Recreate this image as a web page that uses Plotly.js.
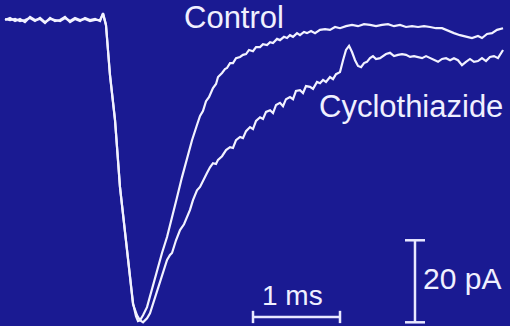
<!DOCTYPE html>
<html>
<head>
<meta charset="utf-8">
<script src="https://cdn.plot.ly/plotly-3.0.1.min.js"></script>
<style>
html,body{margin:0;padding:0;background:#1a1a92;}
#chart{width:510px;height:326px;}
</style>
</head>
<body>
<div id="chart"></div>
<script>
// Time in ms (0 = onset), current in pA (baseline 0)
var controlTime = [-1.149,-1.092,-1.034,-0.977,-0.920,-0.862,-0.805,-0.747,-0.690,-0.632,-0.575,-0.517,-0.460,-0.402,-0.345,-0.287,-0.230,-0.172,-0.115,-0.057,-0.023,
  0.011,0.057,0.115,0.172,0.253,0.322,0.356,0.379,
  0.402,0.437,0.483,0.540,0.598,0.655,0.713,0.770,0.828,0.885,0.943,1.000,1.057,1.092,1.126,1.161,1.195,1.241,1.276,1.299,1.345,1.379,1.402,1.437,1.471,1.506,1.552,1.586,1.621,1.655,1.701,1.736,1.782,1.816,1.862,1.897,1.931,1.977,2.011,2.057,2.092,2.126,2.161,2.207,2.241,2.287,2.322,2.368,2.414,2.471,2.529,2.586,2.644,2.701,
  2.770,2.839,2.908,2.977,3.046,3.115,3.184,3.253,3.322,3.391,3.460,3.529,3.598,3.667,3.736,3.805,3.874,3.943,4.011,4.080,4.149,4.218,4.287,4.333,4.391,4.448,4.506,4.575];
var controlCurrent = [0,0.5,-0.25,0.25,-0.5,0.75,0,0.25,-0.75,0.5,-0.25,0,0.75,-0.5,0.25,-0.25,0.5,0,0.25,-0.25,1.7,
  -1.2,-13.4,-24.4,-40.7,-56.8,-69.0,-72.2,-73.4,
  -73.2,-72.0,-70.0,-65.6,-61.0,-56.8,-52.9,-48.3,-43.2,-38.3,-33.4,-29.3,-25.6,-23.4,-22.2,-19.8,-18.8,-16.6,-15.6,-13.9,-12.9,-11.95,-11.7,-10.5,-10.5,-9.3,-9.0,-8.5,-8.3,-7.3,-7.6,-6.6,-6.6,-5.9,-6.1,-5.4,-5.6,-4.6,-4.9,-4.1,-4.4,-3.7,-4.1,-3.2,-3.7,-2.9,-3.2,-2.7,-3.2,-2.4,-2.2,-2.4,-1.7,-2.0,
  -1.5,-1.2,-1.5,-1.0,-1.2,-1.5,-1.2,-1.0,-1.5,-1.2,-1.7,-1.5,-1.7,-1.5,-1.7,-2.0,-2.0,-2.7,-3.2,-3.7,-4.1,-4.4,-3.9,-4.4,-3.4,-3.2,-2.4,-2.0];

var cycloTime = [-1.149,-1.092,-1.034,-0.977,-0.920,-0.862,-0.805,-0.747,-0.690,-0.632,-0.575,-0.517,-0.460,-0.402,-0.345,-0.287,-0.230,-0.172,-0.115,-0.057,-0.023,
  0.011,0.057,0.115,0.172,0.253,0.322,0.368,0.402,
  0.437,0.483,0.517,0.575,0.632,0.678,0.713,0.747,0.770,0.816,0.862,0.908,0.943,0.977,1.011,1.057,1.092,1.138,1.172,1.207,1.241,1.276,1.299,1.345,1.391,1.437,1.471,1.506,1.552,1.586,1.621,1.667,1.701,1.736,1.782,1.816,1.851,1.897,1.931,1.966,2.011,2.046,2.080,2.126,2.161,2.195,2.241,2.276,2.310,2.356,2.391,2.437,2.471,2.506,2.540,2.586,2.621,2.655,2.701,
  2.736,2.770,2.805,2.839,2.874,2.908,2.943,2.977,3.011,3.046,3.080,3.115,3.161,3.195,3.230,3.276,3.322,3.368,3.414,3.460,3.506,3.552,3.598,3.644,3.690,3.736,3.782,3.828,3.874,3.920,3.966,4.011,4.057,4.103,4.149,4.195,4.241,4.287,4.333,4.379,4.425,4.471,4.517,4.575];
var cycloCurrent = [0.25,0,0.25,-0.25,0,0.5,-0.25,0.5,-0.5,0.25,0,-0.25,0.5,-0.25,0.5,0,0.25,-0.25,0,0,1.5,
  -1.2,-13.4,-24.4,-40.7,-56.8,-69.3,-72.0,-73.2,
  -73.7,-72.7,-71.5,-67.8,-64.1,-61.0,-58.5,-57.3,-56.8,-53.7,-51.2,-49.8,-48.0,-46.3,-43.9,-41.5,-40.7,-38.5,-37.3,-35.9,-34.9,-35.1,-34.1,-33.2,-31.7,-31.0,-31.2,-29.3,-28.5,-28.8,-27.1,-26.1,-26.6,-24.6,-23.7,-24.1,-22.4,-22.0,-22.7,-20.7,-20.2,-21.0,-19.3,-18.8,-19.3,-17.3,-17.1,-17.8,-16.1,-16.3,-16.8,-15.1,-15.4,-14.6,-15.1,-13.9,-14.4,-13.2,-12.7,
  -9.8,-7.3,-6.3,-7.8,-9.8,-11.2,-11.5,-10.5,-10.2,-9.3,-8.8,-9.5,-9.3,-8.8,-8.3,-8.0,-8.8,-8.5,-8.3,-8.5,-9.0,-8.8,-9.0,-9.3,-8.8,-9.3,-9.8,-10.2,-9.5,-9.3,-9.8,-9.3,-9.8,-11.0,-10.2,-9.5,-10.2,-10.0,-9.3,-10.0,-9.0,-8.8,-9.3,-7.3];

var seriesNames = ["Control", "Cyclothiazide"];
var scaleLabels = ["1 ms", "20 pA"];

var lineColor = "#f2f2ff";
var textColor = "#f0f0ff";
var bg = "#1a1a92";
var fontFam = "Liberation Sans, Arial, Helvetica, sans-serif";

var traces = [
  {x: controlTime, y: controlCurrent, name: seriesNames[0], mode: "lines", line: {color: lineColor, width: 2.2}},
  {x: cycloTime, y: cycloCurrent, name: seriesNames[1], mode: "lines", line: {color: lineColor, width: 2.2}}
];

// scale bars (1 ms, 20 pA)
var hb = {x0: 1.701, y: -72.4};
var vb = {x: 3.563, y0: -53.7};
var bs = {color: "#e8e8ff", width: 2.5};
var shapes = [
  {type: "line", xref: "x", yref: "y", x0: hb.x0, x1: hb.x0 + 1, y0: hb.y, y1: hb.y, line: bs},
  {type: "line", xref: "x", yref: "y", x0: hb.x0, x1: hb.x0, y0: hb.y - 1.5, y1: hb.y + 1.5, line: bs},
  {type: "line", xref: "x", yref: "y", x0: hb.x0 + 1, x1: hb.x0 + 1, y0: hb.y - 1.5, y1: hb.y + 1.5, line: bs},
  {type: "line", xref: "x", yref: "y", x0: vb.x, x1: vb.x, y0: vb.y0, y1: vb.y0 - 20, line: bs},
  {type: "line", xref: "x", yref: "y", x0: vb.x - 0.115, x1: vb.x + 0.115, y0: vb.y0, y1: vb.y0, line: bs},
  {type: "line", xref: "x", yref: "y", x0: vb.x - 0.115, x1: vb.x + 0.115, y0: vb.y0 - 20, y1: vb.y0 - 20, line: bs}
];

var annotations = [
  {text: seriesNames[0], xref: "paper", yref: "paper", x: 0.357, y: 0.945, xanchor: "left", yanchor: "middle", showarrow: false, font: {family: fontFam, size: 31, color: textColor}},
  {text: seriesNames[1], xref: "paper", yref: "paper", x: 0.621, y: 0.672, xanchor: "left", yanchor: "middle", showarrow: false, font: {family: fontFam, size: 31, color: textColor}},
  {text: scaleLabels[0], xref: "paper", yref: "paper", x: 0.573, y: 0.093, xanchor: "center", yanchor: "middle", showarrow: false, font: {family: fontFam, size: 28, color: textColor}},
  {text: scaleLabels[1], xref: "paper", yref: "paper", x: 0.826, y: 0.147, xanchor: "left", yanchor: "middle", showarrow: false, font: {family: fontFam, size: 30, color: textColor}}
];

var layout = {
  width: 510, height: 326,
  margin: {l: 0, r: 0, t: 0, b: 0, pad: 0},
  paper_bgcolor: bg, plot_bgcolor: bg,
  showlegend: false,
  xaxis: {range: [-1.207, 4.655], visible: false, fixedrange: true},
  yaxis: {range: [-74.6, 4.88], visible: false, fixedrange: true},
  shapes: shapes,
  annotations: annotations
};

Plotly.newPlot("chart", traces, layout, {staticPlot: true, displayModeBar: false});
</script>
</body>
</html>
